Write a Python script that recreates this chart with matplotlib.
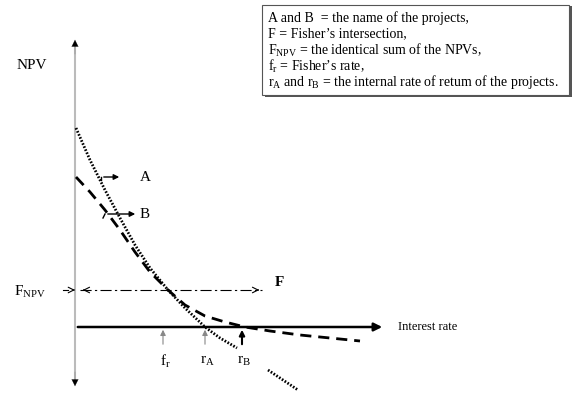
import matplotlib.pyplot as plt
from matplotlib.patches import Rectangle

plt.rcParams['font.family'] = ['Liberation Serif', 'DejaVu Serif']
plt.rcParams['mathtext.fontset'] = 'custom'
plt.rcParams['mathtext.rm'] = 'Liberation Serif'
plt.rcParams['mathtext.it'] = 'Liberation Serif'

# schematic NPV profiles (interest rate vs NPV, arbitrary units)
rate_a = [1, 15, 30, 45, 60, 75, 93, 110, 130, 145, 162]
npv_a = [199, 167, 137, 109, 82, 59, 37, 19, 0, -11, -21]
rate_a_tail = [193, 223]
npv_a_tail = [-43, -63]

rate_b = [1, 15, 30, 45, 60, 75, 93, 110, 130, 150, 170, 195, 225, 255, 285]
npv_b = [150, 135, 117, 97, 75, 55, 37, 22, 11, 5, 0, -4, -8, -11, -14]

fisher_npv = 37
rate_marks = [88, 130, 167]
rate_labels = ['f$_{\\mathrm{r}}$', 'r$_{\\mathrm{A}}$', 'r$_{\\mathrm{B}}$']

legend_lines = [
    "A and B  = the name of the projects,",
    "F = Fisher\u2019s intersection,",
    "F$_{\\mathrm{NPV}}$ = the identical sum of the NPVs,",
    "f$_{\\mathrm{r}}$ = Fisher\u2019s rate,",
    "r$_{\\mathrm{A}}$ and r$_{\\mathrm{B}}$ = the internal rate of retum of the projects.",
]

fig = plt.figure(figsize=(5.72, 3.94), dpi=100)
ax = fig.add_axes([0, 0, 1, 1])
ax.set_xlim(-75, 497)
ax.set_ylim(-67, 327)
ax.axis('off')

# axes
ax.plot([0, 0], [-55, 284], color='#bbbbbb', lw=1.5, zorder=1)
ax.annotate('', xy=(0, 290), xytext=(0, 270),
            arrowprops=dict(arrowstyle='-|>', color='black', lw=0.1, mutation_scale=12))
ax.annotate('', xy=(0, -62), xytext=(0, -42),
            arrowprops=dict(arrowstyle='-|>', color='black', lw=0.1, mutation_scale=12))
ax.annotate('', xy=(310, 0), xytext=(0, 0),
            arrowprops=dict(arrowstyle='-|>', color='black', lw=1.8, mutation_scale=12))
ax.text(323, 0, 'Interest rate', fontsize=9, va='center', ha='left')

# curves
ax.plot(rate_a, npv_a, color='black', lw=2, linestyle=(0, (0.6, 0.6)))
ax.plot(rate_a_tail, npv_a_tail, color='black', lw=2, linestyle=(0, (0.6, 0.6)))
ax.plot(rate_b, npv_b, color='black', lw=2, linestyle=(0, (4, 2.5)))

# Fisher intersection line
ax.plot([5, 187], [fisher_npv, fisher_npv], color='black', lw=0.8, linestyle=(0, (10, 3, 2, 3)))
ax.annotate('', xy=(187, fisher_npv), xytext=(180, fisher_npv),
            arrowprops=dict(arrowstyle='->', color='black', lw=0.8))
ax.annotate('', xy=(5, fisher_npv), xytext=(12, fisher_npv),
            arrowprops=dict(arrowstyle='->', color='black', lw=0.8))
ax.plot([-12, -7], [fisher_npv, fisher_npv], color='black', lw=0.8)
ax.annotate('', xy=(0, fisher_npv), xytext=(-4, fisher_npv),
            arrowprops=dict(arrowstyle='->', color='black', lw=0.8))
ax.text(204, 45, 'F', fontsize=11, fontweight='bold', ha='center', va='center')
ax.text(-45, 35, 'F$_{\\mathrm{NPV}}$', fontsize=11, ha='center', va='center')
ax.text(-43, 262, 'NPV', fontsize=11, ha='center', va='center')

# project labels
ax.plot([26, 26], [147, 150], color='black', lw=1)
ax.annotate('', xy=(47, 150), xytext=(26, 150),
            arrowprops=dict(arrowstyle='-|>', color='black', lw=1, mutation_scale=8))
ax.text(70, 150, 'A', fontsize=11, ha='center', va='center')
ax.plot([28, 30], [109, 113], color='black', lw=1)
ax.annotate('', xy=(63, 113), xytext=(30, 113),
            arrowprops=dict(arrowstyle='-|>', color='black', lw=1, mutation_scale=8))
ax.text(70, 113, 'B', fontsize=11, ha='center', va='center')

# rate markers
for i, (r, lab) in enumerate(zip(rate_marks, rate_labels)):
    c = 'black' if i == 2 else '#888888'
    w = 1.5 if i == 2 else 0.8
    ax.annotate('', xy=(r, 0), xytext=(r, -20),
                arrowprops=dict(arrowstyle='-|>', color=c, lw=w, mutation_scale=8))
    ax.text(r + 2, -34, lab, fontsize=11, ha='center', va='center')

# legend box
ax.add_patch(Rectangle((190, 230), 307, 91, facecolor='#555555', edgecolor='none', zorder=2))
ax.add_patch(Rectangle((187, 232), 307, 90, facecolor='white', edgecolor='#555555', lw=0.8, zorder=3))
for k, line in enumerate(legend_lines):
    ax.text(193, 309 - k * 16, line, fontsize=10, ha='left', va='center', zorder=4)

fig.savefig('out.png', dpi=100)
